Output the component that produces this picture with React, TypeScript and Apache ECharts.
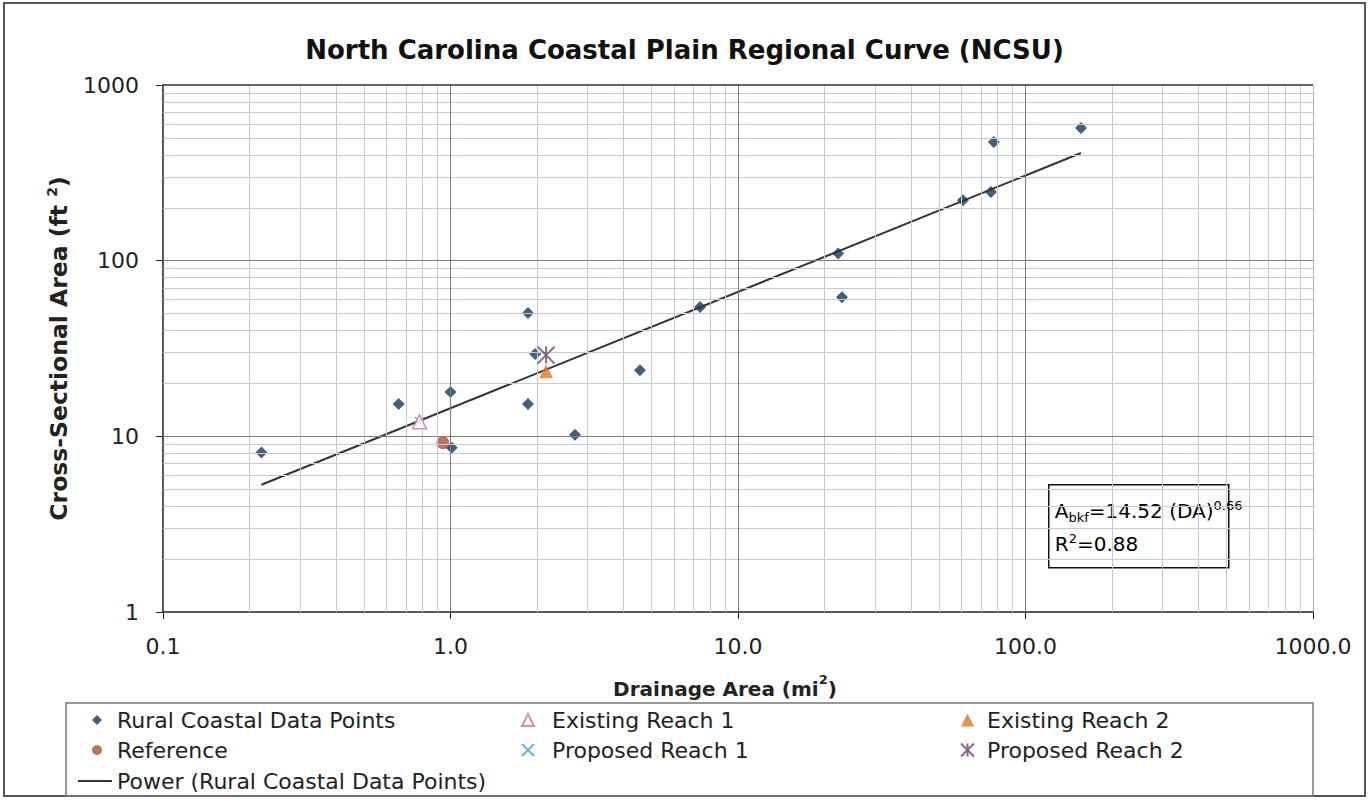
import React, { useEffect, useRef } from "react";
import * as echarts from "echarts";

const FONT = '"DejaVu Sans", "Liberation Sans", Arial, sans-serif';

// Drainage area (mi²), cross-sectional area (ft²)
const ruralDA = [0.22, 0.66, 1.0, 1.01, 1.86, 1.97, 1.86, 2.71, 4.56, 7.38, 22.3, 23.0, 60.6, 75.8, 77.6, 156];
const ruralXS = [8.1, 15.3, 17.9, 8.6, 50.3, 29.4, 15.3, 10.2, 23.8, 54.4, 110, 62, 221, 246, 473, 569];

const referencePt = [0.94, 9.2];
const existing1Pt = [0.78, 12.1];
const existing2Pt = [2.15, 23.5];
const proposed1Pt = [0.78, 12.1];
const proposed2Pt = [2.15, 29.0];

// Power trendline end points (A = 14.52 DA^0.66)
const powerDA = [0.22, 156];
const powerXS = [5.3, 410];

const xMajor = [1, 10, 100];
const yMajor = [10, 100];
const minorMult = [2, 3, 4, 5, 6, 7, 8, 9];
const xDecades = [0.1, 1, 10, 100];
const yDecades = [1, 10, 100];

const xTickLabel = (v: number) => Number(v).toFixed(1);
const yTickLabel = (v: number) => String(Math.round(v));

const MINOR_COLOR = "#c3cad6";
const MAJOR_COLOR = "#7d7d7d";

export default function App() {
  const ref = useRef<HTMLDivElement>(null);

  useEffect(() => {
    if (!ref.current) return;
    const chart = echarts.init(ref.current, undefined, { renderer: "svg" });

    const gridLines: any[] = [];
    xDecades.forEach((d) =>
      minorMult.forEach((m) =>
        gridLines.push({ xAxis: d * m, lineStyle: { color: MINOR_COLOR, width: 1, type: "solid" } })
      )
    );
    yDecades.forEach((d) =>
      minorMult.forEach((m) =>
        gridLines.push({ yAxis: d * m, lineStyle: { color: MINOR_COLOR, width: 1, type: "solid" } })
      )
    );
    xMajor.forEach((v) => gridLines.push({ xAxis: v, lineStyle: { color: MAJOR_COLOR, width: 1, type: "solid" } }));
    yMajor.forEach((v) => gridLines.push({ yAxis: v, lineStyle: { color: MAJOR_COLOR, width: 1, type: "solid" } }));
    gridLines.push({ yAxis: 1000, lineStyle: { color: "#333", width: 1.5, type: "solid" } });
    gridLines.push({ xAxis: 1000, lineStyle: { color: "#b0b0b0", width: 1, type: "solid" } });

    const legendText = (pad: number) => ({
      fontSize: 22,
      color: "#222",
      fontFamily: FONT,
      lineHeight: 22,
      padding: [0, 0, 0, pad],
    });

    const boldRich = (size: number, supSize: number) => ({
      b: { fontSize: size, fontWeight: "bold", color: "#222", fontFamily: FONT, lineHeight: 26, verticalAlign: "bottom" },
      s: { fontSize: supSize, fontWeight: "bold", color: "#222", fontFamily: FONT, lineHeight: 26, verticalAlign: "top" },
    });

    const option: any = {
      animation: false,
      backgroundColor: "#ffffff",
      textStyle: { fontFamily: FONT },
      title: {
        text: "North Carolina Coastal Plain Regional Curve (NCSU)",
        left: "center",
        top: 32,
        textStyle: { fontSize: 26, fontWeight: "bold", color: "#111", fontFamily: FONT },
      },
      grid: { left: 163, right: 56, top: 85, bottom: 188 },
      xAxis: {
        type: "log",
        logBase: 10,
        min: 0.1,
        max: 1000,
        splitNumber: 4,
        axisLine: { show: true, lineStyle: { color: "#222", width: 1.5 } },
        axisTick: { show: true, length: 7, lineStyle: { color: "#222" } },
        axisLabel: { formatter: xTickLabel, fontSize: 22, color: "#222", margin: 23, fontFamily: FONT },
        splitLine: { show: false },
        minorTick: { show: false },
        name: "{b|Drainage Area (mi}{s|2}{b|)}",
        nameLocation: "middle",
        nameGap: 61,
        nameTextStyle: { rich: boldRich(20, 13), padding: [0, 26, 0, 0] },
      },
      yAxis: {
        type: "log",
        logBase: 10,
        min: 1,
        max: 1000,
        splitNumber: 3,
        axisLine: { show: true, lineStyle: { color: "#222", width: 1.5 } },
        axisTick: { show: true, length: 7, lineStyle: { color: "#222" } },
        axisLabel: { formatter: yTickLabel, fontSize: 22, color: "#222", margin: 24, fontFamily: FONT },
        splitLine: { show: false },
        name: "{b|Cross-Sectional Area (ft }{s|2}{b|)}",
        nameLocation: "middle",
        nameGap: 92,
        nameTextStyle: { rich: boldRich(23.5, 14) },
      },
      legend: [
        {
          left: 87,
          top: 704,
          orient: "vertical",
          itemWidth: 10,
          itemHeight: 10,
          itemGap: 8,
          textStyle: legendText(10),
          data: ["Rural Coastal Data Points", "Reference"],
        },
        {
          left: 516,
          top: 704,
          orient: "vertical",
          itemWidth: 12,
          itemHeight: 12,
          itemGap: 8,
          textStyle: legendText(13),
          data: ["Existing Reach 1", "Proposed Reach 1"],
        },
        {
          left: 955,
          top: 704,
          orient: "vertical",
          itemWidth: 13,
          itemHeight: 13,
          itemGap: 8,
          textStyle: legendText(8),
          data: ["Existing Reach 2", "Proposed Reach 2"],
        },
        {
          left: 73,
          top: 765,
          itemWidth: 34,
          itemHeight: 2,
          textStyle: legendText(0),
          data: [{ name: "Power (Rural Coastal Data Points)", icon: "rect" }],
        },
      ],
      graphic: [
        {
          type: "rect",
          z: -10,
          shape: { x: 4, y: 3, width: 1361, height: 793 },
          style: { fill: "none", stroke: "#555", lineWidth: 2 },
          silent: true,
        },
        {
          type: "rect",
          z: -10,
          shape: { x: 66, y: 703, width: 1247, height: 93 },
          style: { fill: "none", stroke: "#777", lineWidth: 1.5 },
          silent: true,
        },
        {
          type: "group",
          left: 1048,
          top: 484,
          z: 100,
          children: [
            {
              type: "rect",
              shape: { x: 0, y: 0, width: 180, height: 83 },
              style: { fill: "#fff", stroke: "#111", lineWidth: 1.5 },
            },
            {
              type: "text",
              x: 6,
              y: 10,
              style: {
                text: "{a|A}{sub|bkf}{a|=14.52 (DA)}{sup|0.66}\n{a|R}{sup|2}{a|=0.88}",
                fontFamily: FONT,
                rich: {
                  a: { fontSize: 20, color: "#111", fontFamily: FONT, lineHeight: 33, verticalAlign: "middle" },
                  sub: { fontSize: 13, color: "#111", fontFamily: FONT, lineHeight: 33, verticalAlign: "bottom", padding: [0, 0, 4, 0] },
                  sup: { fontSize: 13, color: "#111", fontFamily: FONT, lineHeight: 33, verticalAlign: "top", padding: [4, 0, 0, 0] },
                },
              },
            },
          ],
        },
      ],
      series: [
        {
          name: "gridlines",
          type: "scatter",
          z: 1,
          data: [],
          silent: true,
          markLine: { silent: true, symbol: "none", label: { show: false }, animation: false, data: gridLines },
        },
        {
          name: "Power (Rural Coastal Data Points)",
          type: "line",
          z: 3,
          showSymbol: false,
          symbol: "none",
          color: "#333",
          lineStyle: { color: "#333", width: 2 },
          data: powerDA.map((x, i) => [x, powerXS[i]]),
        },
        {
          name: "Rural Coastal Data Points",
          type: "scatter",
          z: 4,
          symbol: "diamond",
          symbolSize: 12,
          itemStyle: { color: "#1a3559" },
          data: ruralDA.map((x, i) => [x, ruralXS[i]]),
        },
        {
          name: "Reference",
          type: "scatter",
          z: 4,
          symbol: "circle",
          symbolSize: 13,
          itemStyle: { color: "#b0502c" },
          data: [referencePt],
        },
        {
          name: "Existing Reach 1",
          type: "scatter",
          z: 5,
          symbol: "triangle",
          symbolSize: 14,
          itemStyle: { color: "#ffffff", borderColor: "#c07892", borderWidth: 1.5 },
          data: [existing1Pt],
        },
        {
          name: "Proposed Reach 1",
          type: "scatter",
          z: 4,
          symbol: "path://M0,0L10,10M10,0L0,10",
          symbolSize: 9,
          itemStyle: { color: "rgba(0,0,0,0)", borderColor: "#3aa0c8", borderWidth: 1.5 },
          data: [proposed1Pt],
        },
        {
          name: "Existing Reach 2",
          type: "scatter",
          z: 5,
          symbol: "triangle",
          symbolSize: 14,
          itemStyle: { color: "#e0742a" },
          data: [existing2Pt],
        },
        {
          name: "Proposed Reach 2",
          type: "scatter",
          z: 6,
          symbol: "path://M0,0L10,10M10,0L0,10M5,0L5,10",
          symbolSize: 17,
          itemStyle: { color: "rgba(0,0,0,0)", borderColor: "#6b3d6e", borderWidth: 2 },
          data: [proposed2Pt],
        },
      ],
    };

    chart.setOption(option);
    return () => chart.dispose();
  }, []);

  return (
    <div
      ref={ref}
      style={{ position: "fixed", left: 0, top: 0, width: 1369, height: 800, background: "#fff" }}
    />
  );
}
